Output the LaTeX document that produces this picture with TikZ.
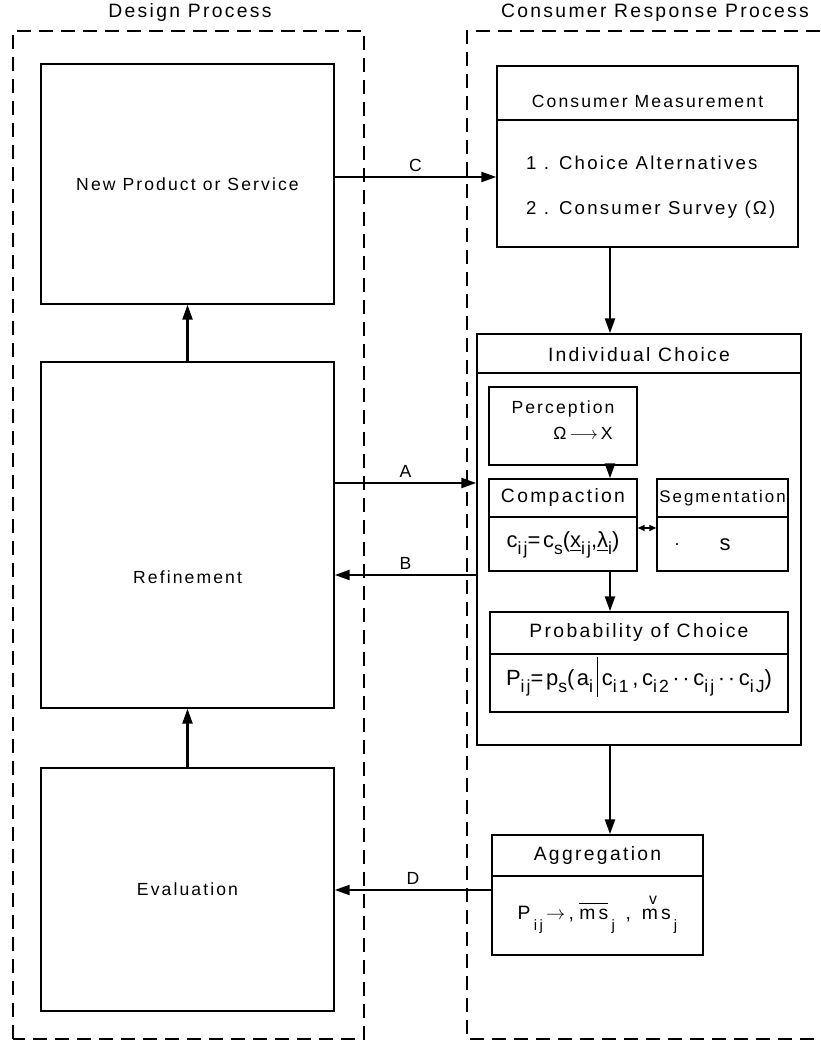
\documentclass[tikz,border=0pt]{standalone}
\usepackage{amsmath}
\usepackage{fontspec}
\setmainfont{Liberation Sans}[LetterSpace=12]
\usepackage{tikz}
\usetikzlibrary{arrows.meta,positioning,calc}

\newcommand{\idx}[1]{\raisebox{-0.6ex}{\fontsize{10}{11}\selectfont #1}}
\newcommand{\low}[1]{\raisebox{-1ex}{\fontsize{8.5}{10}\selectfont #1}}
\newcommand{\chk}[1]{#1\llap{\raisebox{9pt}{\fontsize{9}{10}\selectfont v}\kern0.5pt}}
\newcommand{\mean}[1]{$\overline{\text{\rule{0pt}{8pt}#1}}$}

\begin{document}
\begin{tikzpicture}[
    font=\fontsize{10}{12}\selectfont,
    block/.style={rectangle, draw, thick, inner sep=0pt},
    frame/.style={thick, dash pattern=on 0.28cm off 0.16cm},
    flow/.style={-{Triangle[length=0.3cm, width=0.2cm]}, line width=1.3pt},
    link/.style={{Triangle[length=0.14cm, width=0.12cm]}-{Triangle[length=0.14cm, width=0.12cm]}, line width=1.3pt},
    tag/.style={midway, above, inner sep=2.5pt},
    head/.style={font=\fontsize{11}{13}\selectfont},
    formula/.style={font=\fontsize{12.5}{14}\selectfont, inner sep=1pt}
]
    \useasboundingbox (0,0) rectangle (16.4,20.82);

    % Frames
    \node[head] (tdesign) at (3.8,20.56) {Design Process};
    \node[head] (tconsumer) at (13.1,20.56) {Consumer Response Process};
    \draw[frame] (0.26,0.04) rectangle (7.28,20.2);
    \draw[frame] (16.4,20.2) -- (9.34,20.2) -- (9.34,0.04) -- (16.4,0.04);

    % Design process
    \node[block, minimum width=5.86cm, minimum height=4.8cm] (np) at (3.75,17.14) {New Product or Service};
    \node[block, minimum width=5.86cm, minimum height=6.92cm] (rf) at (3.75,10.12) {};
    \node (rftext) at (3.75,9.28) {Refinement};
    \node[block, minimum width=5.86cm, minimum height=4.86cm] (ev) at (3.75,3.03) {Evaluation};
    \draw[flow] (rf.north) -- (np.south);
    \draw[flow] (ev.north) -- (rf.south);

    % Consumer measurement
    \coordinate (spine) at (12.2,0);
    \node[block, minimum width=6.02cm, minimum height=3.62cm] (cm) at (12.95,17.69) {};
    \draw[thick] (cm.west |- 0,18.42) -- (cm.east |- 0,18.42);
    \node (cmtitle) at (12.95,18.8) {Consumer Measurement};
    \node[right, font=\fontsize{10.6}{12}\selectfont] (cmone) at (10.4,17.56) {1 . Choice Alternatives};
    \node[right, font=\fontsize{10.6}{12}\selectfont] (cmtwo) at (10.4,16.62) {2 . Consumer Survey (Ω)};

    % Individual choice
    \node[block, minimum width=6.48cm, minimum height=8.22cm] (ic) at (12.78,10.03) {};
    \draw[thick] (ic.west |- 0,13.36) -- (ic.east |- 0,13.36);
    \node[head] (ictitle) at (12.78,13.72) {Individual Choice};
    \node[block, minimum width=2.96cm, minimum height=1.56cm] (pc) at (11.26,12.3) {};
    \node (pctitle) at (11.26,12.64) {Perception};
    \node (pcmap) at (11.66,12.16) {Ω\,$\longrightarrow$\,X};
    \node[block, minimum width=2.96cm, minimum height=1.84cm] (cp) at (11.26,10.32) {};
    \draw[thick] (cp.west |- 0,10.48) -- (cp.east |- 0,10.48);
    \node[head] (cptitle) at (11.26,10.86) {Compaction};
    \node[formula] (cpform) at (11.26,9.92) {c\idx{ij}=c\idx{s}(\underline{x}\idx{ij},\underline{λ}\idx{i})};
    \node[block, minimum width=2.62cm, minimum height=1.84cm] (sg) at (14.45,10.32) {};
    \draw[thick] (sg.west |- 0,10.48) -- (sg.east |- 0,10.48);
    \node[font=\fontsize{9.6}{11}\selectfont] (sgtitle) at (14.45,10.86) {Segmentation};
    \node (sgdot) at (13.54,9.92) {.};
    \node[formula] (sgform) at (14.5,9.92) {s};
    \node[block, minimum width=5.96cm, minimum height=2cm] (pr) at (12.78,7.58) {};
    \draw[thick] (pr.west |- 0,7.74) -- (pr.east |- 0,7.74);
    \node[head] (prtitle) at (12.78,8.16) {Probability of Choice};
    \node[formula] (prform) at (12.78,7.28) {P\idx{ij}=p\idx{s}(a\idx{i}\,\rule[-0.5em]{0.8pt}{1.8em}\,c\idx{i1}\,,\,c\idx{i2}\,··\,c\idx{ij}\,··\,c\idx{iJ})};

    % Aggregation
    \node[block, minimum width=4.22cm, minimum height=2.4cm] (ag) at (11.95,2.92) {};
    \draw[thick] (ag.west |- 0,3.3) -- (ag.east |- 0,3.3);
    \node[head] (agtitle) at (11.95,3.7) {Aggregation};
    \node[anchor=base, font=\fontsize{11}{13}\selectfont] (agform) at (11.95,2.42) {P\,\low{i\,j}\,$\rightarrow$\,,\;\mean{m\,s}\,\low{j}\;\;,\;\;\chk{m}\,s\,\low{j}};

    % Flow inside
    \draw[flow] (cm.south -| spine) -- (ic.north -| spine);
    \draw[flow] (pc.south -| spine) -- (cp.north -| spine);
    \draw[flow] (cp.south -| spine) -- (pr.north -| spine);
    \draw[link] (cp.east |- 0,10.26) -- (sg.west |- 0,10.26);
    \draw[flow] (ic.south -| spine) -- (ag.north -| spine);

    % Between the processes
    \draw[flow] (np.east |- 0,17.28) -- (cm.west |- 0,17.28) node[tag] (lc) {C};
    \draw[flow] (rf.east |- 0,11.16) -- (ic.west |- 0,11.16) node[tag] (la) {A};
    \draw[flow] (ic.west |- 0,9.32) -- (rf.east |- 0,9.32) node[tag] (lb) {B};
    \draw[flow] (ag.west |- 0,3.02) -- (ev.east |- 0,3.02) node[tag] (ld) {D};
\end{tikzpicture}
\end{document}
